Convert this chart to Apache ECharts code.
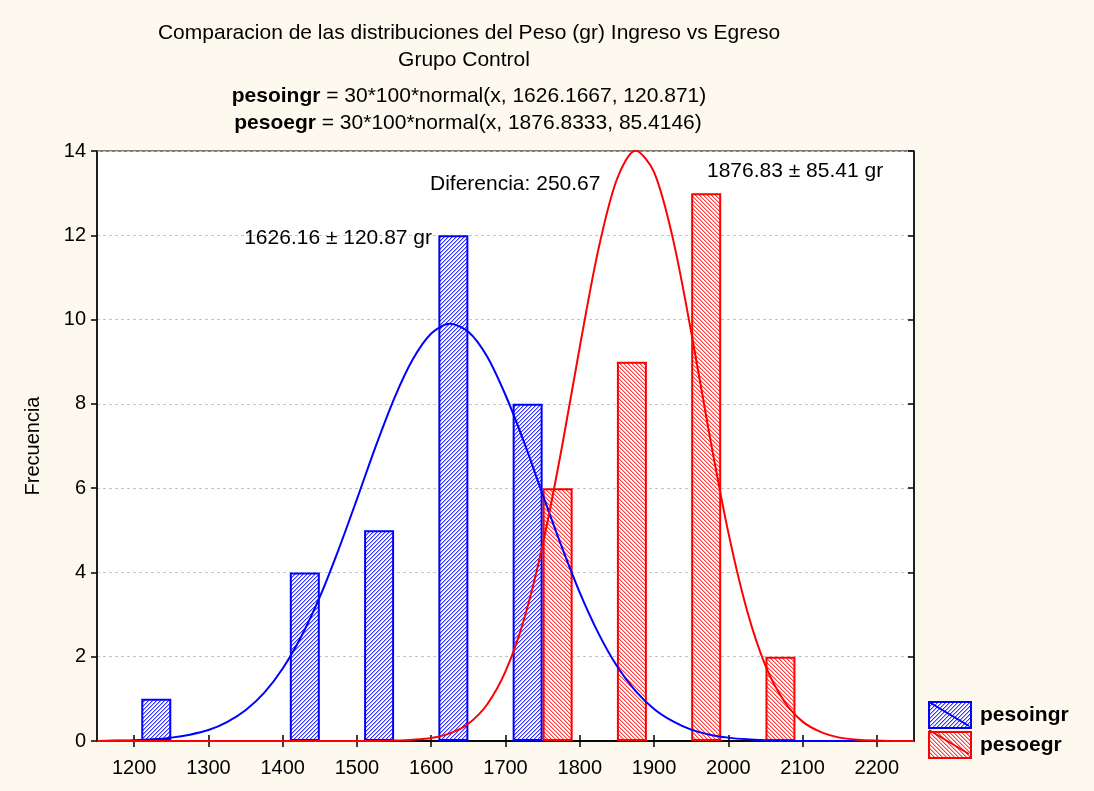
<!DOCTYPE html>
<html>
<head>
<meta charset="utf-8">
<script src="https://cdn.jsdelivr.net/npm/echarts@6/dist/echarts.min.js"></script>
<style>
html, body { margin: 0; padding: 0; background: #fdf9ee; }
#main { width: 1094px; height: 791px; }
</style>
</head>
<body>
<div id="main"></div>
<script>
// centros de clase (ancho 100 gr) y frecuencias
var binIngreso = [1250, 1450, 1550, 1650, 1750];
var freqIngreso = [1, 4, 5, 12, 8];
var binEgreso = [1750, 1850, 1950, 2050];
var freqEgreso = [6, 9, 13, 2];

// curvas normales ajustadas (paso 25 gr)
var curvaX = [1150, 1175, 1200, 1225, 1250, 1275, 1300, 1325, 1350, 1375, 1400, 1425, 1450, 1475, 1500,
    1525, 1550, 1575, 1600, 1625, 1650, 1675, 1700, 1725, 1750, 1775, 1800, 1825, 1850, 1875,
    1900, 1925, 1950, 1975, 2000, 2025, 2050, 2075, 2100, 2125, 2150, 2175, 2200, 2225, 2250];
var curvaIngreso = [0.00, 0.01, 0.02, 0.04, 0.08, 0.15, 0.26, 0.45, 0.73, 1.14, 1.72, 2.48, 3.42, 4.53, 5.74,
    6.98, 8.12, 9.05, 9.67, 9.90, 9.71, 9.13, 8.21, 7.09, 5.85, 4.64, 3.52, 2.56, 1.78, 1.19,
    0.76, 0.47, 0.27, 0.15, 0.08, 0.04, 0.02, 0.01, 0.00, 0.00, 0.00, 0.00, 0.00, 0.00, 0.00];
var curvaEgreso = [0.00, 0.00, 0.00, 0.00, 0.00, 0.00, 0.00, 0.00, 0.00, 0.00, 0.00, 0.00, 0.00, 0.00, 0.00,
    0.00, 0.01, 0.03, 0.07, 0.18, 0.41, 0.86, 1.65, 2.89, 4.65, 6.88, 9.35, 11.66, 13.33, 14.01,
    13.50, 11.95, 9.71, 7.23, 4.95, 3.11, 1.79, 0.95, 0.46, 0.21, 0.08, 0.03, 0.01, 0.00, 0.00];

var xTicks = [1200, 1300, 1400, 1500, 1600, 1700, 1800, 1900, 2000, 2100, 2200];

var FONT = '"Liberation Sans", Arial, sans-serif';

function pairs(xs, ys) {
    var out = [];
    for (var i = 0; i < xs.length; i++) {
        out.push([xs[i], ys[i]]);
    }
    return out;
}

// relleno rayado tipo STATISTICA
function hatch(color, light, dir) {
    var n = 4;
    var c = document.createElement('canvas');
    c.width = n;
    c.height = n;
    var ctx = c.getContext('2d');
    ctx.fillStyle = '#ffffff';
    ctx.fillRect(0, 0, n, n);
    for (var x = 0; x < n; x++) {
        for (var y = 0; y < n; y++) {
            var k = dir > 0 ? (x + y) % n : (x - y + n) % n;
            if (k === 0) {
                ctx.fillStyle = color;
                ctx.fillRect(x, y, 1, 1);
            } else if (k === 1) {
                ctx.fillStyle = light;
                ctx.fillRect(x, y, 1, 1);
            }
        }
    }
    return { image: c, repeat: 'repeat' };
}

var chart = echarts.init(document.getElementById('main'));

var option = {
    backgroundColor: '#fdf9ee',
    animation: false,
    grid: {
        left: 97,
        top: 151,
        width: 817,
        height: 590,
        show: true,
        backgroundColor: '#ffffff',
        borderColor: '#000',
        borderWidth: 1
    },
    legend: {
        data: ['pesoingr', 'pesoegr'],
        orient: 'vertical',
        left: 928,
        top: 701,
        padding: 0,
        itemGap: 2,
        itemWidth: 42,
        itemHeight: 26,
        icon: 'rect',
        textStyle: { fontFamily: FONT, fontSize: 21, fontWeight: 'bold', color: '#000', padding: [0, 0, 0, 4] }
    },
    xAxis: [{
        type: 'value',
        min: 1150,
        max: 2250,
        axisLine: { show: true, lineStyle: { color: '#000', width: 1.5 } },
        axisTick: { show: true, inside: true, length: 6, customValues: xTicks, lineStyle: { color: '#000', width: 1.5 } },
        axisLabel: { customValues: xTicks, fontFamily: FONT, fontSize: 20, color: '#000', margin: 17,
            formatter: function (v) { return String(v); } },
        splitLine: { show: false }
    }, {
        type: 'value',
        position: 'top',
        min: 1150,
        max: 2250,
        axisLine: { show: true, lineStyle: { color: '#000', width: 1.5 } },
        axisTick: { show: true, inside: true, length: 6, customValues: xTicks, lineStyle: { color: '#000', width: 1.5 } },
        axisLabel: { show: false },
        splitLine: { show: false }
    }],
    yAxis: [{
        type: 'value',
        min: 0,
        max: 14,
        interval: 2,
        name: 'Frecuencia',
        nameLocation: 'middle',
        nameGap: 54,
        nameTextStyle: { fontFamily: FONT, fontSize: 20, color: '#000' },
        axisLine: { show: true, lineStyle: { color: '#000', width: 1.5 } },
        axisTick: { show: true, inside: false, length: 6, lineStyle: { color: '#000', width: 1.5 } },
        axisLabel: { fontFamily: FONT, fontSize: 20, color: '#000', margin: 11 },
        splitLine: { show: true, lineStyle: { color: '#c4c4c4', type: [3, 3], width: 1 } }
    }, {
        type: 'value',
        position: 'right',
        min: 0,
        max: 14,
        interval: 2,
        axisLine: { show: true, lineStyle: { color: '#000', width: 1.5 } },
        axisTick: { show: true, inside: true, length: 6, lineStyle: { color: '#000', width: 1.5 } },
        axisLabel: { show: false },
        splitLine: { show: false }
    }],
    series: [
        {
            name: 'pesoingr',
            type: 'bar',
            barWidth: 30,
            barGap: '0%',
            data: pairs(binIngreso, freqIngreso),
            itemStyle: { color: hatch('#3535ff', '#a8a8ff', 1), borderColor: '#0000ff', borderWidth: 2 },
            z: 2
        },
        {
            name: 'pesoegr',
            type: 'bar',
            barWidth: 30,
            barGap: '0%',
            data: pairs(binEgreso, freqEgreso),
            itemStyle: { color: hatch('#ff4040', '#ffaaaa', -1), borderColor: '#ff0000', borderWidth: 2 },
            z: 2
        },
        {
            name: 'normal ingreso',
            type: 'line',
            data: pairs(curvaX, curvaIngreso),
            smooth: 0.3,
            symbol: 'none',
            lineStyle: { color: '#0000ff', width: 2 },
            z: 3
        },
        {
            name: 'normal egreso',
            type: 'line',
            data: pairs(curvaX, curvaEgreso),
            smooth: 0.3,
            symbol: 'none',
            lineStyle: { color: '#ff0000', width: 2 },
            z: 3
        }
    ],
    graphic: [
        {
            type: 'text', x: 469, y: 33,
            style: { text: 'Comparacion de las distribuciones del Peso (gr) Ingreso vs Egreso', font: '21px ' + FONT,
                fill: '#000', align: 'center', verticalAlign: 'middle', textAlign: 'center', textVerticalAlign: 'middle' }
        },
        {
            type: 'text', x: 464, y: 60,
            style: { text: 'Grupo Control', font: '21px ' + FONT,
                fill: '#000', align: 'center', verticalAlign: 'middle', textAlign: 'center', textVerticalAlign: 'middle' }
        },
        {
            type: 'text', x: 469, y: 96,
            style: { text: '{b|pesoingr} = 30*100*normal(x, 1626.1667, 120.871)', font: '21px ' + FONT,
                rich: { b: { fontFamily: FONT, fontSize: 21, fontWeight: 'bold', fill: '#000' } },
                fill: '#000', align: 'center', verticalAlign: 'middle', textAlign: 'center', textVerticalAlign: 'middle' }
        },
        {
            type: 'text', x: 468, y: 123,
            style: { text: '{b|pesoegr} = 30*100*normal(x, 1876.8333, 85.4146)', font: '21px ' + FONT,
                rich: { b: { fontFamily: FONT, fontSize: 21, fontWeight: 'bold', fill: '#000' } },
                fill: '#000', align: 'center', verticalAlign: 'middle', textAlign: 'center', textVerticalAlign: 'middle' }
        },
        {
            type: 'text', x: 432, y: 238, z: 10,
            style: { text: '1626.16 ± 120.87 gr', font: '21px ' + FONT,
                fill: '#000', align: 'right', verticalAlign: 'middle', textAlign: 'right', textVerticalAlign: 'middle' }
        },
        {
            type: 'text', x: 430, y: 184, z: 10,
            style: { text: 'Diferencia: 250.67', font: '21px ' + FONT,
                fill: '#000', align: 'left', verticalAlign: 'middle', textAlign: 'left', textVerticalAlign: 'middle' }
        },
        {
            type: 'text', x: 707, y: 171, z: 10,
            style: { text: '1876.83 ± 85.41 gr', font: '21px ' + FONT,
                fill: '#000', align: 'left', verticalAlign: 'middle', textAlign: 'left', textVerticalAlign: 'middle' }
        },
        {
            type: 'line', z: 10,
            shape: { x1: 929, y1: 702, x2: 969, y2: 726 },
            style: { stroke: '#0000ff', lineWidth: 2 }
        },
        {
            type: 'line', z: 10,
            shape: { x1: 929, y1: 730, x2: 969, y2: 754 },
            style: { stroke: '#ff0000', lineWidth: 2 }
        }
    ]
};

chart.setOption(option);
</script>
</body>
</html>
